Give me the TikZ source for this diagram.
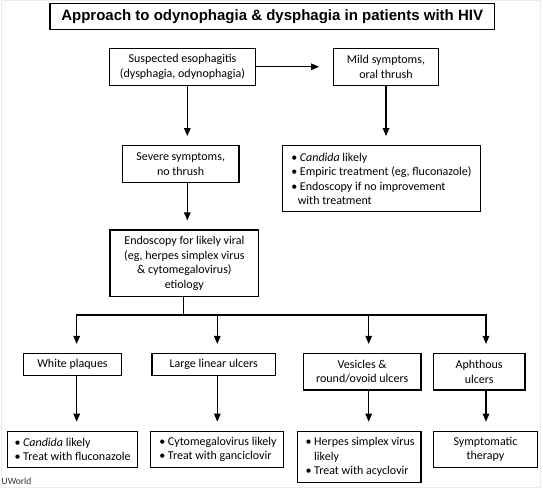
\documentclass[tikz,border=0pt]{standalone}
\usepackage{fontspec}
\setmainfont{Carlito}
\newfontfamily\titlefont{Liberation Sans}
\usetikzlibrary{arrows.meta}
\definecolor{framecol}{HTML}{DDF1F5}
\newcommand\bul{\makebox[8.6pt][l]{\textbullet}}
\newcommand\hangin{\hspace*{8.6pt}}
\begin{document}
\begin{tikzpicture}[x=1pt,y=-1pt,
  box/.style={draw, line width=1.2pt, inner sep=0pt, align=center,
    font=\fontsize{12}{14.5}\selectfont},
  ltxt/.style={inner sep=0pt, align=left, anchor=west,
    font=\fontsize{12}{14.5}\selectfont},
  sz/.style 2 args={minimum width=#1pt, minimum height=#2pt},
  arr/.style={line width=1.2pt, -{Triangle[length=8pt,width=6.5pt]}, shorten >=9pt},
  ln/.style={line width=1.2pt}]
\useasboundingbox (0,0) rectangle (543,489);
\fill[white] (0,0) rectangle (543,489);
\draw[framecol, line width=1pt] (1.5,1) rectangle (540,487);

% title
\node[draw, line width=1.2pt, sz={444.3}{26}, inner sep=0pt,
  font=\titlefont\bfseries\fontsize{15}{18}\selectfont] (title) at (272.15,16.3)
  {Approach to odynophagia \& dysphagia in patients with HIV};

% first levels
\node[box, sz={146.4}{37}] (sus) at (182.5,66.8) {Suspected esophagitis\\(dysphagia, odynophagia)};
\node[box, sz={104.6}{37}] (mild) at (386,66.8) {Mild symptoms,\\oral thrush};
\node[box, sz={116.7}{37}] (sev) at (180.65,164.2) {Severe symptoms,\\no thrush};
\node[box, sz={197.6}{66}] (cand1) at (381.5,178.7) {};
\node[ltxt] (cand1t) at ([xshift=9pt]cand1.west)
  {\bul\textit{Candida} likely\\\bul Empiric treatment (eg, fluconazole)\\\bul Endoscopy if no improvement\\\hspace*{6.6pt}with treatment};
\node[box, sz={148.7}{66.3}] (endo) at (184.35,263.15)
  {Endoscopy for likely viral\\(eg, herpes simplex virus\\\& cytomegalovirus)\\etiology};

% findings
\node[box, sz={98.4}{22.2}] (wp) at (72.5,364.6) {White plaques};
\node[box, sz={123.3}{22.2}] (ll) at (213.65,364.6) {Large linear ulcers};
\node[box, sz={117.7}{36.5}] (ves) at (362.15,371.75) {Vesicles \&\\round/ovoid ulcers};
\node[box, sz={91.7}{36.5}] (aph) at (479.15,371.75) {Aphthous\\ulcers};

% treatments
\node[box, sz={130.4}{36}] (cand2) at (72.5,449.3) {};
\node[ltxt] (cand2t) at ([xshift=7.7pt]cand2.west)
  {\bul\textit{Candida} likely\\\bul Treat with fluconazole};
\node[box, sz={133}{36}] (cmv) at (217.2,449.3) {};
\node[ltxt] (cmvt) at ([xshift=9pt]cmv.west)
  {\bul Cytomegalovirus likely\\\bul Treat with ganciclovir};
\node[box, sz={123.3}{51}] (hsv) at (359.35,456.8) {};
\node[ltxt] (hsvt) at ([xshift=8.3pt]hsv.west)
  {\bul Herpes simplex virus\\\hangin likely\\\bul Treat with acyclovir};
\node[box, sz={104.4}{36}] (sym) at (485.5,449.3) {Symptomatic\\therapy};

\node[anchor=base west, inner sep=0pt, font=\fontsize{9.5}{11}\selectfont, text=black!80] (uw) at (1.5,484.5) {UWorld};

% connectors
\coordinate (xa) at (187.3,0);
\coordinate (xb) at (386,0);
\draw[arr, shorten >=14pt] (sus.east) -- (mild.west);
\draw[arr] (sus.south -| xa) -- (sev.north -| xa);
\draw[arr] (sev.south -| xa) -- (endo.north -| xa);
\draw[arr] (mild.south -| xb) -- (cand1.north -| xb);

\coordinate (j) at (183.3,315);
\coordinate (h1) at (76.7,315);
\coordinate (h2) at (217.3,315);
\coordinate (h3) at (368.7,315);
\coordinate (h4) at (486,315);
\draw[ln] (endo.south -| j) -- (j);
\draw[ln, line cap=rect] (h1) -- (h4);
\draw[arr] (h1) -- (wp.north -| h1);
\draw[arr] (h2) -- (ll.north -| h2);
\draw[arr] (h3) -- (ves.north -| h3);
\draw[arr] (h4) -- (aph.north -| h4);

\draw[arr] (wp.south -| h1) -- (cand2.north -| h1);
\draw[arr] (ll.south -| h2) -- (cmv.north -| h2);
\draw[arr] (ves.south -| h3) -- (hsv.north -| h3);
\draw[arr] (aph.south -| h4) -- (sym.north -| h4);
\end{tikzpicture}
\end{document}
